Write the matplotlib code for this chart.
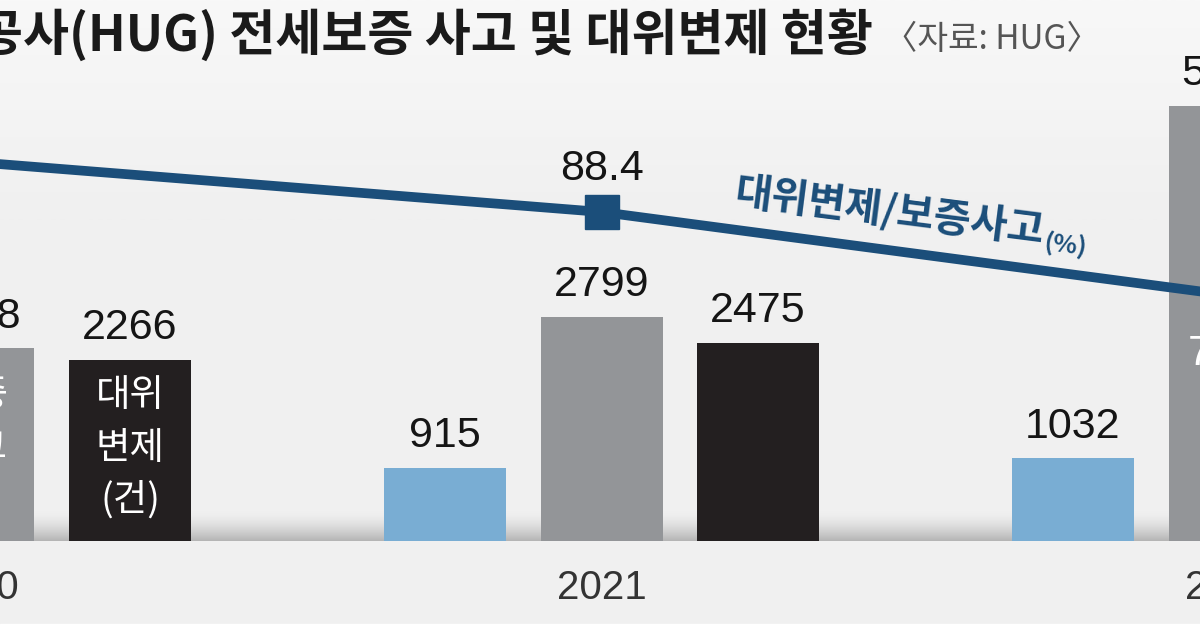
import numpy as np
import matplotlib
matplotlib.use("Agg")
import matplotlib.pyplot as plt
from matplotlib.colors import to_rgb

# ---- data ----
years = ["2020", "2021", "2022"]
blue_vals = [np.nan, 915, 1032]          # 2020 value is outside the visible crop
gray_vals = [2408, 2799, 5443]           # 보증사고(건)
black_vals = [2266, 2475, 4294]          # 대위변제(건)
ratio_vals = [94.1, 88.4, 78.9]          # 대위변제/보증사고(%)
ratio_labels = ["94.1", "88.4", "78.9"]

title = "주택도시보증공사(HUG) 전세보증 사고 및 대위변제 현황"
source = "〈자료: HUG〉"
line_label = "대위변제/보증사고"
line_unit = "(%)"

# ---- style ----
BG = "#f0f0f0"
BG_TOP = "#f8f8f8"
C_BLUE = "#79add3"
C_GRAY = "#939598"
C_BLACK = "#231f20"
C_LINE = "#1b4e7a"
KR = ["Noto Sans CJK KR", "DejaVu Sans"]
NUM = ["Liberation Sans Narrow", "Liberation Sans", "DejaVu Sans"]

W, H = 1200, 630
fig = plt.figure(figsize=(12, 6.3), dpi=100, facecolor=BG)
ax = fig.add_axes([0, 0, 1, 1])
ax.set_facecolor("none")
ax.axis("off")

# pixel mapping of the crop
grp_px = 628.0       # pixels between group centers
c2021_px = 601.5
base_px = 541.0      # baseline (from top)
px_per_unit = 0.08
x0 = 1 - c2021_px / grp_px
x1 = 1 + (W - c2021_px) / grp_px
ylo = -(H - base_px) / px_per_unit
yhi = base_px / px_per_unit

off = 156.5 / grp_px
bw = 122 / grp_px
xs = np.arange(len(years))

# soft background gradient at the top of the panel
top_h = 220 / px_per_unit
tt = np.linspace(0, 1, 200)[:, None]
bg_grad = (np.array(to_rgb(BG_TOP))[None, :] * (1 - tt) +
           np.array(to_rgb(BG))[None, :] * tt)[:, None, :]
ax.imshow(bg_grad, extent=[x0, x1, yhi - top_h, yhi], aspect="auto",
          zorder=0.1, interpolation="bilinear")

# gradient band above baseline
band_h = 30 / px_per_unit
t = np.linspace(0, 1, 200) ** 1.6
c_top = np.array(to_rgb(BG))
c_bot = np.array(to_rgb("#b4b4b4"))
grad = (c_top[None, :] * (1 - t[:, None]) + c_bot[None, :] * t[:, None])[:, None, :]
ax.imshow(grad, extent=[x0, x1, 0, band_h], aspect="auto", zorder=0.5,
          interpolation="bilinear")

ax.bar(xs - off, blue_vals, width=bw, color=C_BLUE, zorder=2)
ax.bar(xs, gray_vals, width=bw, color=C_GRAY, zorder=2)
ax.bar(xs + off, black_vals, width=bw, color=C_BLACK, zorder=2)
ax.set_xlim(x0, x1)
ax.set_ylim(ylo, yhi)

# value labels above bars
for xx, vals in ((xs - off, blue_vals), (xs, gray_vals), (xs + off, black_vals)):
    for xi, v in zip(xx, vals):
        if np.isnan(v):
            continue
        ax.annotate(f"{int(v)}", (xi, v), xytext=(0, 15),
                    textcoords="offset points", ha="center", va="baseline",
                    fontsize=31, family=NUM, color="#151515", zorder=5,
                    annotation_clip=False)

# white labels inside 2020 bars
for xi, lab in ((xs[0] + off, "대위\n변제\n(건)"), (xs[0], "보증\n사고\n(건)")):
    ax.text(xi, -(448 - base_px) / px_per_unit, lab, ha="center", va="center",
            fontsize=27, family=KR, fontweight="medium", color="white",
            linespacing=1.45, zorder=4)

# year labels
for xi, yr in zip(xs, years):
    ax.text(xi, -(599 - base_px) / px_per_unit, yr, ha="center", va="baseline",
            fontsize=29, family=NUM, color="#333333")

# ratio line on twin axis
ax2 = ax.twinx()
ax2.axis("off")
r_px = 8.77
ax2.set_ylim(88.4 - (H - 212) / r_px, 88.4 + 212 / r_px)
ax2.plot(xs, ratio_vals, color=C_LINE, lw=7, marker="s", markersize=25,
         solid_capstyle="butt", zorder=6)
ax2.annotate(ratio_labels[1], (xs[1], ratio_vals[1]), xytext=(0, 23),
             textcoords="offset points", ha="center", va="baseline",
             fontsize=31, family=NUM, color="#151515")
ax2.annotate(ratio_labels[2], (xs[2], ratio_vals[2]), xytext=(0, -50),
             textcoords="offset points", ha="center", va="baseline",
             fontsize=31, family=NUM, color="white", annotation_clip=False)

# line series label
fig.text(889 / W, 1 - 213 / H, line_label, rotation=-7.3, rotation_mode="anchor",
         ha="center", va="center", fontsize=29, fontweight="bold",
         family=KR, color=C_LINE)
fig.text(1066 / W, 1 - 245 / H, line_unit, rotation=-7.3, rotation_mode="anchor",
         ha="center", va="center", fontsize=18, fontweight="bold",
         family=KR, color=C_LINE)

# title and source
fig.text(873 / W, 1 - 35 / H, title, ha="right", va="center", fontsize=36,
         fontweight="bold", family=KR, color="#1a1a1a")
fig.text(884 / W, 1 - 40 / H, source, ha="left", va="center", fontsize=24,
         family=KR, color="#555555")

# thin white strip at the bottom edge
fig.patches.append(plt.Rectangle((0, 0), 1, 6 / H, transform=fig.transFigure,
                                 color="white", zorder=10))

fig.savefig("out.png", dpi=100, facecolor=BG)
